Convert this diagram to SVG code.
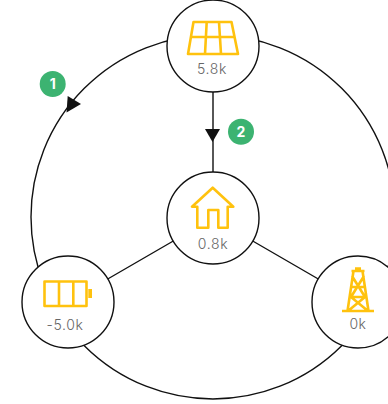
<svg xmlns="http://www.w3.org/2000/svg" width="388" height="404" viewBox="0 0 388 404">
<style>
.c{fill:#fff;stroke:#111;stroke-width:1.4}
.l{fill:none;stroke:#111;stroke-width:1.4}
.i{fill:none;stroke:#ffc20e;stroke-width:2.6;stroke-linejoin:round}
.t{font-family:"Inter","Open Sans",sans-serif;font-weight:300;font-size:14px;letter-spacing:.6px;fill:#666;text-anchor:middle}
.b{fill:#3cb371}
.n{font-family:"Inter","Open Sans",sans-serif;font-weight:700;font-size:14px;fill:#fff;text-anchor:middle}
</style>
<rect width="388" height="404" fill="#fff"/>
<g id="connectors">
<circle class="l" cx="213" cy="217" r="182"/>
<path class="l" d="M213 46V218M213 218L68 302M213 218L358 302"/>
<path d="M67.700 96L81 104L66.500 112.500Z" fill="#111"/>
<path d="M205 129H220L212.500 142Z" fill="#111"/>
</g>
<g id="solar">
<circle class="c" cx="213" cy="46" r="46"/>
<path class="i" d="M193.500 22H231.500L238 54H188ZM190.800 37H234.800M206.700 22L205 54M219 22L221 54"/>
<text class="t" x="212" y="74">5.8k</text>
</g>
<g id="home">
<circle class="c" cx="213" cy="218" r="46"/>
<path class="i" d="M212.700 187.700L192 206.700H197.300V227.700H208.300V210H218.300V227.700H227.700V206.700H233.300Z"/>
<text class="t" x="213" y="249">0.8k</text>
</g>
<g id="battery">
<circle class="c" cx="68" cy="302" r="46"/>
<path class="i" d="M44.500 281.500H86.500V306H44.500ZM59 281.500V306M73.300 281.500V306"/>
<rect x="88.300" y="289" width="3.700" height="9" fill="#ffc20e"/>
<text class="t" x="65" y="330">-5.0k</text>
</g>
<g id="grid">
<circle class="c" cx="358" cy="302" r="46"/>
<path class="i" d="M342 311H374M347.500 311L353.500 271M368.500 311L362.500 271M351.500 271H364.500M352 287H364M350 297H366M348 311L365 297M368 311L351 297M351 297L364 276M365 297L352 276M355 268.500H361"/>
<text class="t" x="358" y="329">0k</text>
</g>
<g id="badge1">
<circle class="b" cx="52.700" cy="84" r="13"/>
<text class="n" x="52.700" y="89">1</text>
</g>
<g id="badge2">
<circle class="b" cx="241" cy="131.700" r="13"/>
<text class="n" x="241" y="136.700">2</text>
</g>
</svg>
